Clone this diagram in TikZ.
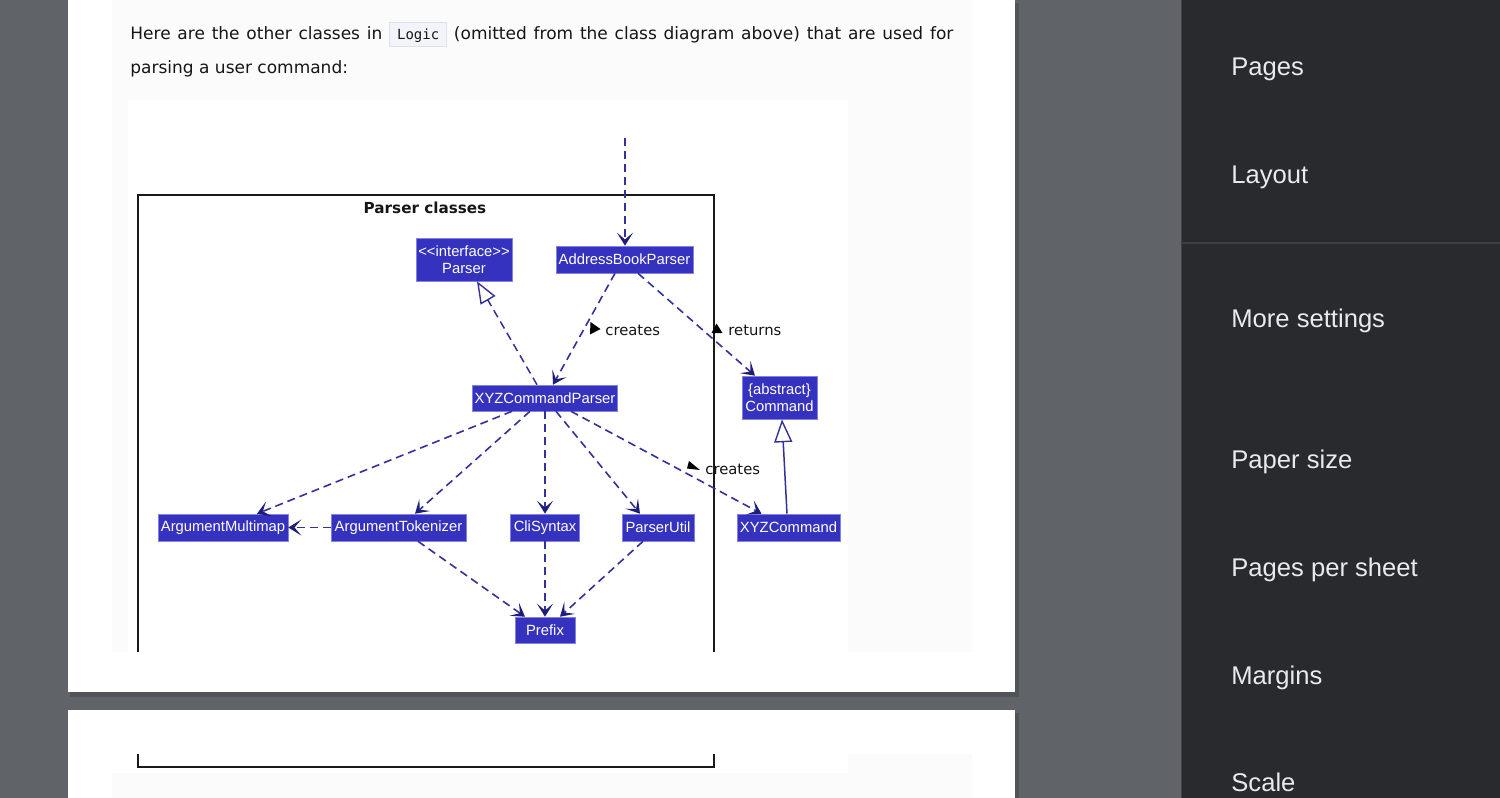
\documentclass[tikz,border=0pt]{standalone}
\usepackage{fontspec}
\setmainfont{Liberation Sans}
\newfontfamily\parafont{DejaVu Sans}
\newfontfamily\codefont{DejaVu Sans Mono}
\newfontfamily\labelfont{DejaVu Sans}
\usetikzlibrary{arrows.meta,calc}
\definecolor{greybg}{RGB}{96,99,104}
\definecolor{greyshadow}{RGB}{80,83,88}
\definecolor{panelbg}{RGB}{41,42,45}
\definecolor{paneldiv}{RGB}{60,64,67}
\definecolor{paneltxt}{RGB}{232,234,237}
\definecolor{pagelight}{RGB}{251,251,252}
\definecolor{clsfill}{RGB}{52,50,190}
\definecolor{clsline}{RGB}{130,130,225}
\definecolor{edgecol}{RGB}{50,50,152}
\definecolor{tipcol}{RGB}{30,30,120}
\definecolor{codebg}{RGB}{243,244,250}
\definecolor{codeline}{RGB}{222,225,236}
\definecolor{txt}{RGB}{22,22,24}
\newcommand{\lgcbox}{{\setlength{\fboxsep}{0pt}\setlength{\fboxrule}{0.5pt}\fcolorbox{codeline}{codebg}{\makebox[28pt]{\rule[-3.25pt]{0pt}{11.5pt}\codefont\fontsize{7pt}{8pt}\selectfont Logic}}}}
\tikzset{
  cls/.style={draw=clsline, line width=0.3pt, fill=clsfill, text=white,
    font=\fontsize{7.4pt}{8.5pt}\selectfont, inner sep=0pt, align=center},
  dep/.style={edgecol, line width=0.8pt, dash pattern=on 4pt off 2.5pt,
    -{Stealth[length=6.5pt,width=8pt,inset=3.4pt,color=tipcol]}},
  realiz/.style={edgecol, line width=0.75pt, dash pattern=on 4pt off 2.5pt,
    -{Triangle[open,length=11pt,width=8.5pt,fill=white,line width=0.7pt]}},
  extnd/.style={edgecol, line width=0.75pt,
    -{Triangle[open,length=11.5pt,width=9pt,fill=white,line width=0.7pt]}},
  lab/.style={font=\labelfont\fontsize{7.4pt}{9pt}\selectfont, text=txt, inner sep=0pt, anchor=west},
  paneltext/.style={font=\fontsize{12.8pt}{15pt}\selectfont, text=paneltxt, inner sep=0pt, anchor=base west},
  para/.style={font=\parafont\fontsize{8.5pt}{10pt}\selectfont, text=txt, inner sep=0pt, anchor=base west},
  frameline/.style={draw=black!90, line width=1pt}
}
\begin{document}
\begin{tikzpicture}[x=0.5pt,y=-0.5pt]
\useasboundingbox (0,0) rectangle (1500,798);
% background and panel
\fill[greybg] (0,0) rectangle (1181,798);
\fill[panelbg] (1181,0) rectangle (1500,798);
\draw[paneldiv, line width=1pt] (1182,243) -- (1500,243);
\draw[greyshadow!80!black, line width=0.5pt] (1181,0) -- (1181,798);
% pages
\fill[greyshadow] (70,3) rectangle (1019,697);
\fill[white] (68,0) rectangle (1015,692);
\fill[greyshadow] (70,713) rectangle (1019,798);
\fill[white] (68,710) rectangle (1015,798);
\fill[pagelight] (112,0) rectangle (972,652);
\fill[white] (128,100) rectangle (848,652);
\fill[pagelight] (112,754) rectangle (972,798);
\fill[white] (112,754) rectangle (848,773);
% paragraph
\node[para] (line1) at (130,39) {\makebox[411.5pt][s]{Here are the other classes in \lgcbox{} (omitted from the class diagram above) that are used for}};
\node[para] (line2) at (130,73) {parsing a user command:};
% frame
\draw[frameline] (138,652) -- (138,195) -- (714,195) -- (714,652);
\draw[frameline] (138,754) -- (138,767) -- (714,767) -- (714,754);
\node[font=\labelfont\bfseries\fontsize{7.6pt}{10pt}\selectfont, text=txt, inner sep=0pt] (title) at (425,208) {Parser classes};
% classes
\node[cls, minimum width=48pt, minimum height=21.5pt] (parser) at (464,259.5) {{<}{<}interface{>}{>}\\Parser};
\node[cls, minimum width=68.5pt, minimum height=13.5pt] (abp) at (624.5,259.5) {AddressBookParser};
\node[cls, minimum width=72.5pt, minimum height=13pt] (xyzp) at (545,398) {XYZCommandParser};
\node[cls, minimum width=37.5pt, minimum height=21.5pt] (cmd) at (779.5,397.5) {\{abstract\}\\Command};
\node[cls, minimum width=65pt, minimum height=13.5pt] (amm) at (223,527.5) {ArgumentMultimap};
\node[cls, minimum width=67.5pt, minimum height=13.5pt] (atok) at (398.5,527.5) {ArgumentTokenizer};
\node[cls, minimum width=34.5pt, minimum height=13.5pt] (cli) at (545,527.5) {CliSyntax};
\node[cls, minimum width=36pt, minimum height=13.5pt] (pu) at (658,527.5) {ParserUtil};
\node[cls, minimum width=51.5pt, minimum height=13.5pt] (xyzc) at (788.5,527.5) {XYZCommand};
\node[cls, minimum width=30pt, minimum height=13pt] (prefix) at (545,630) {Prefix};
% connectors
\coordinate (topin) at (625,138);
\draw[dep] (topin) -- (topin |- abp.north);
\draw[realiz] ($(xyzp.north)+(-8,0)$) -- ($(parser.south)+(13,0)$);
\draw[dep] ($(abp.south)+(-9.5,0)$) -- ($(xyzp.north)+(8,0)$);
\draw[dep] ($(abp.south)+(13.5,0)$) -- ($(cmd.north)+(-24.5,0)$);
\draw[dep] ($(xyzp.south)+(-33,0)$) -- ($(amm.north)+(34,0)$);
\draw[dep] ($(xyzp.south)+(-15,0)$) -- ($(atok.north)+(16.5,0)$);
\draw[dep] (xyzp.south) -- (cli.north);
\draw[dep] ($(xyzp.south)+(11,0)$) -- ($(pu.north)+(-18,0)$);
\draw[dep] ($(xyzp.south)+(26,0)$) -- ($(xyzc.north)+(-27,0)$);
\draw[dep] (atok.west) -- (amm.east);
\draw[dep] ($(atok.south)+(19.5,0)$) -- ($(prefix.north)+(-20,0)$);
\draw[dep] (cli.south) -- (prefix.north);
\draw[dep] ($(pu.south)+(-15,0)$) -- ($(prefix.north)+(15,0)$);
\draw[extnd] ($(xyzc.north)+(-1.5,0)$) -- ($(cmd.south)+(2.5,0)$);
% labels
\fill[black] (590.5,322) -- (600.5,329) -- (590,334.5) -- cycle;
\node[lab] (lcreates1) at (605,330) {creates};
\fill[black] (711.5,333) -- (716.5,323.5) -- (722.5,333) -- cycle;
\node[lab] (lreturns) at (728,330.5) {returns};
\fill[black] (689,461) -- (700,470) -- (687,468.5) -- cycle;
\node[lab] (lcreates2) at (705,469) {creates};
% panel
\node[paneltext] (pPages) at (1231,75) {Pages};
\node[paneltext] (pLayout) at (1231,183) {Layout};
\node[paneltext] (pMore) at (1231,327) {More settings};
\node[paneltext] (pPaper) at (1231,468) {Paper size};
\node[paneltext] (pPPS) at (1231,576) {Pages per sheet};
\node[paneltext] (pMargins) at (1231,684) {Margins};
\node[paneltext] (pScale) at (1231,791) {Scale};
\end{tikzpicture}
\end{document}
